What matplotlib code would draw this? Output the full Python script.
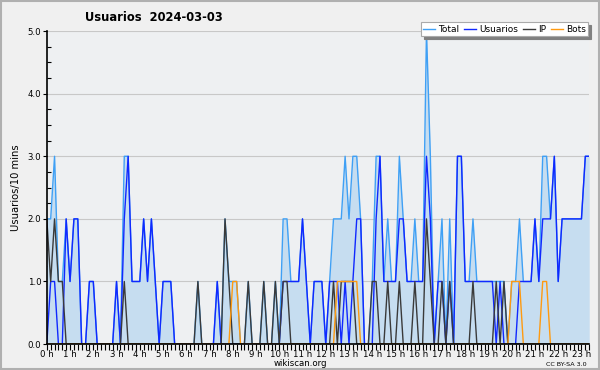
import numpy as np
import matplotlib
matplotlib.use("Agg")
import matplotlib.pyplot as plt
from matplotlib.ticker import MultipleLocator, FixedLocator

# values per 10 minutes, 0:00 .. 23:20
usuarios = [0, 1, 1, 0, 0, 2, 1, 2, 2, 0, 0, 1,
            1, 0, 0, 0, 0, 0, 1, 0, 2, 3, 1, 1,
            1, 2, 1, 2, 1, 0, 1, 1, 1, 0, 0, 0,
            0, 0, 0, 0, 0, 0, 0, 0, 1, 0, 0, 0,
            0, 0, 0, 0, 0, 0, 0, 0, 0, 0, 0, 0,
            0, 1, 1, 1, 1, 1, 2, 1, 0, 1, 1, 1,
            0, 1, 1, 1, 0, 1, 0, 1, 2, 2, 0, 0,
            0, 2, 3, 1, 1, 1, 1, 2, 2, 1, 1, 1,
            1, 1, 3, 2, 0, 1, 1, 0, 1, 0, 3, 3,
            1, 1, 1, 1, 1, 1, 1, 1, 0, 1, 0, 0,
            0, 0, 1, 1, 1, 1, 2, 1, 2, 2, 2, 3,
            1, 2, 2, 2, 2, 2, 2, 3, 3]
ip = [2, 1, 2, 1, 1, 0, 0, 0, 0, 0, 0, 0,
      0, 0, 0, 0, 0, 0, 0, 0, 1, 0, 0, 0,
      0, 0, 0, 0, 0, 0, 0, 0, 0, 0, 0, 0,
      0, 0, 0, 1, 0, 0, 0, 0, 0, 0, 2, 1,
      0, 0, 0, 0, 1, 0, 0, 0, 1, 0, 0, 1,
      0, 1, 1, 0, 0, 0, 0, 0, 0, 0, 0, 0,
      0, 0, 1, 0, 1, 1, 1, 1, 0, 0, 0, 0,
      1, 1, 0, 0, 1, 0, 0, 1, 0, 0, 0, 1,
      0, 0, 2, 1, 0, 0, 1, 0, 1, 0, 0, 0,
      0, 0, 1, 0, 0, 0, 0, 0, 1, 0, 1, 0,
      0, 0, 0, 0, 0, 0, 0, 0, 0, 0, 0, 0,
      0, 0, 0, 0, 0, 0, 0, 0, 0]
bots = [0, 0, 0, 0, 0, 0, 0, 0, 0, 0, 0, 0,
        0, 0, 0, 0, 0, 0, 0, 0, 0, 0, 0, 0,
        0, 0, 0, 0, 0, 0, 0, 0, 0, 0, 0, 0,
        0, 0, 0, 0, 0, 0, 0, 0, 0, 0, 0, 0,
        1, 1, 0, 0, 0, 0, 0, 0, 0, 0, 0, 0,
        0, 0, 0, 0, 0, 0, 0, 0, 0, 0, 0, 0,
        0, 0, 0, 1, 1, 1, 1, 1, 1, 0, 0, 0,
        0, 0, 0, 0, 0, 0, 0, 0, 0, 0, 0, 0,
        0, 0, 0, 0, 0, 0, 0, 0, 0, 0, 0, 0,
        0, 0, 0, 0, 0, 0, 0, 0, 0, 0, 0, 0,
        1, 1, 1, 0, 0, 0, 0, 0, 1, 1, 0, 0,
        0, 0, 0, 0, 0, 0, 0, 0, 0]
total = [2, 2, 3, 1, 1, 2, 1, 2, 2, 0, 0, 1,
         1, 0, 0, 0, 0, 0, 1, 0, 3, 3, 1, 1,
         1, 2, 1, 2, 1, 0, 1, 1, 1, 0, 0, 0,
         0, 0, 0, 1, 0, 0, 0, 0, 1, 0, 2, 1,
         1, 1, 0, 0, 1, 0, 0, 0, 1, 0, 0, 1,
         0, 2, 2, 1, 1, 1, 2, 1, 0, 1, 1, 1,
         0, 1, 2, 2, 2, 3, 2, 3, 3, 2, 0, 0,
         1, 3, 3, 1, 2, 1, 1, 3, 2, 1, 1, 2,
         1, 1, 5, 3, 0, 1, 2, 0, 2, 0, 3, 3,
         1, 1, 2, 1, 1, 1, 1, 1, 1, 1, 1, 0,
         1, 1, 2, 1, 1, 1, 2, 1, 3, 3, 2, 3,
         1, 2, 2, 2, 2, 2, 2, 3, 3]
hour_labels = ["%d h" % h for h in range(24)]

x = np.arange(len(total))

fig = plt.figure(figsize=(6, 3.7), dpi=100, facecolor="#f0f0f0")
ax = fig.add_axes([0.078, 0.070, 0.904, 0.846])
ax.set_facecolor("#eef0f2")

ax.fill_between(x, total, 0, color="#c6ddf0", lw=0)
ax.plot(x, total, color="#3fa0f5", lw=1.0, label="Total")
ax.plot(x, usuarios, color="#1028ff", lw=1.0, label="Usuarios")
ax.plot(x, ip, color="#3a3a3a", lw=1.0, label="IP")
ax.plot(x, bots, color="#ff9a10", lw=1.0, label="Bots")

ax.set_xlim(0, len(total) - 1)
ax.set_ylim(0, 5)
ax.yaxis.set_major_locator(MultipleLocator(1))
ax.yaxis.set_minor_locator(MultipleLocator(0.25))
ax.yaxis.set_major_formatter(matplotlib.ticker.FormatStrFormatter("%.1f"))
ax.grid(axis="y", color="#c8c8c8", lw=0.8)
ax.set_axisbelow(True)

ax.xaxis.set_major_locator(FixedLocator(np.arange(24) * 6))
ax.set_xticklabels(hour_labels)
ax.xaxis.set_minor_locator(MultipleLocator(1))
ax.tick_params(axis="x", which="major", length=4, width=0.8, labelsize=6.2, pad=0)
ax.tick_params(axis="x", which="minor", length=4, width=0.8)
ax.tick_params(axis="y", which="major", length=3, width=0.8, labelsize=6.2, pad=1)
ax.tick_params(axis="y", which="minor", direction="in", length=3, width=0.8)

for s in ["top", "right"]:
    ax.spines[s].set_visible(False)
ax.spines["left"].set_linewidth(1.2)
ax.spines["bottom"].set_linewidth(1.2)

ax.set_ylabel("Usuarios/10 mins", fontsize=7.2, labelpad=5)
fig.text(0.142, 0.943, "Usuarios  2024-03-03", fontsize=8.3, fontweight="bold")
fig.text(0.5, 0.01, "wikiscan.org", fontsize=6.2, ha="center")
fig.text(0.978, 0.012, "CC BY-SA 3.0", fontsize=4.6, ha="right")

leg = ax.legend(loc="upper right", bbox_to_anchor=(1.006, 1.042), ncol=4, fontsize=6.5,
                handlelength=1.3, handletextpad=0.35, columnspacing=0.55,
                borderpad=0.25, fancybox=False, shadow={"color": "#808080", "alpha": 1},
                framealpha=1, edgecolor="#aaaaaa")
leg.get_frame().set_linewidth(0.8)

fig.patches.append(plt.Rectangle((0.002, 0.003), 0.996, 0.994, transform=fig.transFigure,
                                 fill=False, edgecolor="#b0b0b0", lw=1.5))

fig.savefig("out.png", dpi=100, facecolor=fig.get_facecolor())
